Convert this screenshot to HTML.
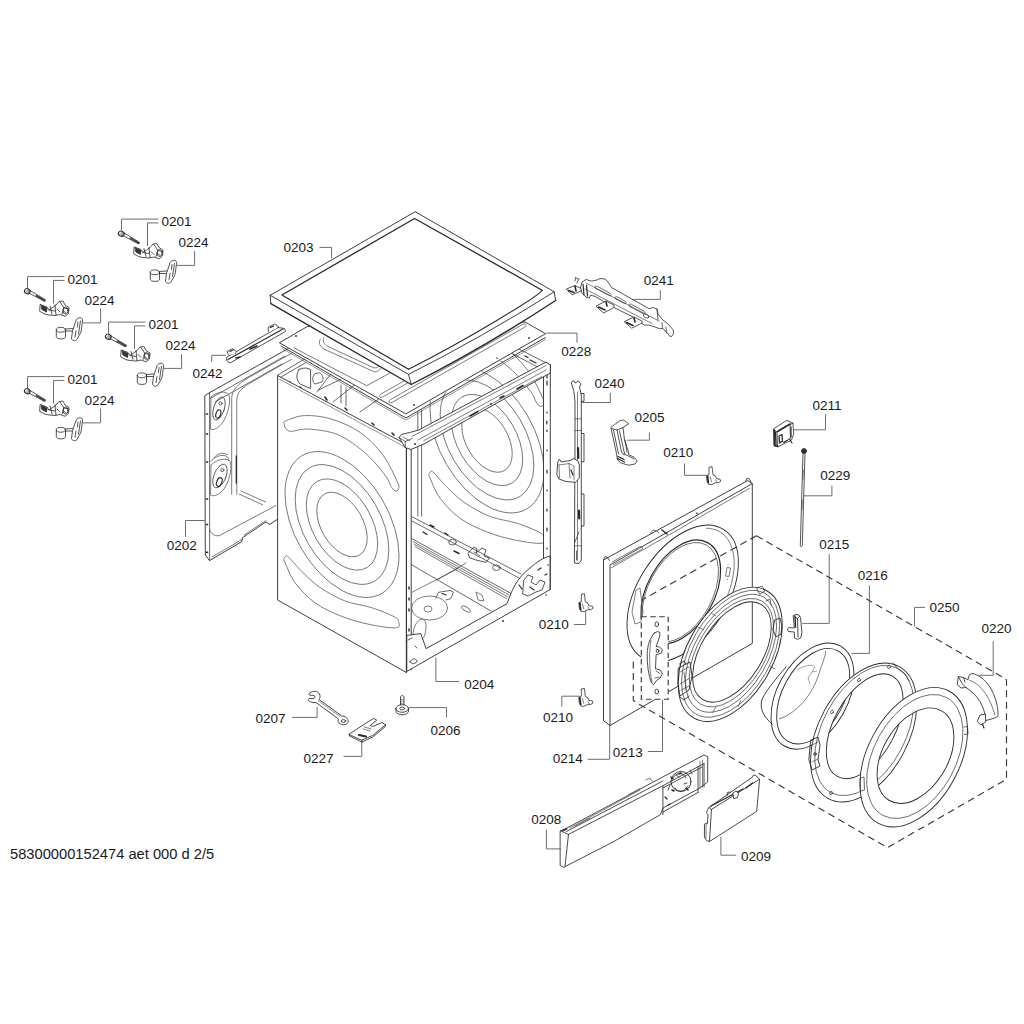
<!DOCTYPE html>
<html><head><meta charset="utf-8">
<style>
html,body{margin:0;padding:0;background:#fff;width:1024px;height:1024px;overflow:hidden}
svg{display:block}
text{font-family:"Liberation Sans",sans-serif;font-size:13.5px;fill:#1a1a1a}
.l{fill:none;stroke:#6e6e6e;stroke-width:1}
.d{fill:none;stroke:#2a2a2a;stroke-width:0.9;stroke-linejoin:round;stroke-linecap:round}
.t{fill:none;stroke:#666;stroke-width:0.85}
.w{fill:#fff;stroke:#2a2a2a;stroke-width:0.9;stroke-linejoin:round}
.ds{fill:none;stroke:#3a3a3a;stroke-width:1.15;stroke-dasharray:7 4.5}
</style></head><body>
<svg width="1024" height="1024" viewBox="0 0 1024 1024">
<defs>
<g id="grp">
<path class="l" d="M27.5,288V276.6H64.4M53.5,303.5V280.4H64.4M83,322.9H100.6V308.5"/>
<g class="d" style="stroke-width:0.8">
<path d="M29.5,290.2L45.5,299.8L44.5,301.4L28.5,292.8" fill="#fff"/>
<path d="M36.5,295.8L44.8,300.6" style="stroke-width:1.8;stroke:#444"/>
<ellipse cx="27.3" cy="291.2" rx="2.9" ry="2.5" fill="#fff" transform="rotate(30 27.3 291.2)" style="stroke-width:1.1"/>
<ellipse cx="28" cy="291.6" rx="1.2" ry="1.6" fill="none" style="stroke-width:0.6"/>
<path d="M40.5,304.5L47,307L49,310L56,305L59,301.5L63,301L65,305L69,307.5L68.5,313.5L65,316.3L60,314.5L55,315.5L49,315L45,314.2L40,311.5Z" fill="#fff"/>
<path d="M41.5,305.5L47,308L46.5,312L42,309.5Z" fill="#333"/>
<path d="M55,305L56,315M60,302L64,308L62,314M64,308L68.8,309M49,310L55,311M50,306L52,314M57,309L60,312M63,310.5L66,313"/>
<ellipse cx="65.5" cy="310.5" rx="2.5" ry="3.5"/>
<ellipse cx="60.9" cy="329.8" rx="4.6" ry="2.4" fill="#fff"/>
<path d="M56.3,329.8V336.5A4.6,2.4 0 0 0 65.5,336.5V329.8"/>
<path d="M65,329L73,328.5M65.5,331L72.5,331"/>
<path d="M76.5,319.5C78.5,317 82,317 82.7,320L81,332L77,339.5C75.5,341.5 72,341 71.5,338.5L72.5,331Z" fill="#fff"/>
<path d="M78,322L77.5,327M76,331L75,337M80.5,321L78.5,334"/>
</g>
<text x="67.4" y="283.8">0201</text>
<text x="84.4" y="304.5">0224</text>
</g>
</defs>
<!-- GROUPS -->
<use href="#grp"/>
<use href="#grp" transform="translate(94,-57.5)"/>
<use href="#grp" transform="translate(81,45.5)"/>
<use href="#grp" transform="translate(0,100)"/>
<!-- LABELS -->
<g>
<text x="283.5" y="251.9">0203</text>
<text x="192.5" y="378.4">0242</text>
<text x="166.7" y="550.2">0202</text>
<text x="561.3" y="356.1">0228</text>
<text x="643.8" y="285">0241</text>
<text x="594.4" y="388.4">0240</text>
<text x="634.4" y="421.9">0205</text>
<text x="663.3" y="457">0210</text>
<text x="812.5" y="409.8">0211</text>
<text x="820.2" y="480.3">0229</text>
<text x="819.2" y="548.7">0215</text>
<text x="857.8" y="580.3">0216</text>
<text x="929.6" y="612.1">0250</text>
<text x="981.4" y="632.7">0220</text>
<text x="538.8" y="629.4">0210</text>
<text x="543.1" y="722.2">0210</text>
<text x="552.8" y="763">0214</text>
<text x="612.7" y="756.8">0213</text>
<text x="464.2" y="688.8">0204</text>
<text x="255.5" y="723">0207</text>
<text x="303.6" y="762.5">0227</text>
<text x="430.6" y="735.2">0206</text>
<text x="531.3" y="824.4">0208</text>
<text x="740.9" y="860.5">0209</text>
<text x="10" y="859" style="font-size:14.7px">58300000152474 aet 000 d 2/5</text>
</g>
<!-- LEADERS -->
<path class="l" d="M319.5,247.4H331.6V258.5
M211.7,362V355.3H226
M185.5,537V520.5H204.6
M546.3,333.1H577V342.8
M660.3,290V299.4H629.8
M610.3,392.8V402.5H581.9
M649.4,432.3V440.2H627.2
M684.5,463.6V475.3H706.9
M825.5,414.2V429.8H793.9
M831.9,485.6V495.8H803.3
M829.2,554.2V623.4H802.2
M869.4,585.5V653.4H851.4
M925,607.4H914.5V626.4
M993.2,641.2V675.3H979.1
M574,624.5H585.7V611.3
M561.8,706.6V696.2H579.8
M587.6,759.3H609.7V725.5
M647.9,751.5H662.5V700
M459,681.5H435.9V657.6
M292,717.4H317.1V706.9
M343.5,756.4H361.8V741.8
M446.5,717.4V707.6H408.7
M546.4,829.6V848.9H560.9
M736.2,855.2H720.9V837"/>

<!-- SIDE PANEL 0202 -->
<g id="p0202">
<path fill="#fff" d="M204.8,395.7L210.3,392.2L288,348.7L292,346L292,520L276.2,520L269.8,524.4L266,521.9L242.5,537.7L241.9,541.5L209.5,560.6L205.3,554.9Z"/>
<path class="d" d="M288,348.7L210.3,392.2L204.8,395.7L205.3,554.9L209.5,560.6L241.9,541.5L242.5,537.7L266,521.9L269.8,524.4L276.2,520L278,519"/>
<path class="d" d="M209.6,393V560M210.3,398.4L285,356M215,402L282,364" style="stroke-width:0.7"/>
<path class="d" d="M212,557L242,539.5M244,535L266,520.5" style="stroke-width:0.6"/>
<path class="t" d="M209.5,528.9C211,534 214,536 219,535.8L276.2,505.4"/>
<path class="t" d="M231.7,494.6V398C232,390 238,384 248,378L292,353M236.8,494.6V400C237,392 242,388 250,383L292,359"/>
<path class="t" d="M240.6,490.8L266,502.2M239,494L263,505"/>
<path class="t" d="M211,397C216,392 226,390 229,395C231,402 228,414 223,422C219,428 213,431 210.5,429Z"/>
<ellipse class="d" cx="219" cy="408.5" rx="5.3" ry="12" transform="rotate(18 219 408.5)" style="stroke-width:0.7"/>
<circle class="d" cx="220.5" cy="403.4" r="1.6" style="stroke-width:0.7"/>
<ellipse class="d" cx="218.3" cy="414" rx="2.3" ry="4.3" transform="rotate(18 218.3 414)" style="stroke-width:1.1"/>
<path class="t" d="M210.5,462C214,457 221,454 226,456C228,457 229,459 229,461M214,458C217,453 224,452 228,455"/>
<path class="t" d="M211,465C217,459 228,457 230.5,462C232,470 229,482 224,489C219,495 213,497 210.5,495Z"/>
<ellipse class="d" cx="220" cy="476" rx="6" ry="12.5" transform="rotate(22 220 476)" style="stroke-width:0.7"/>
<circle class="d" cx="222.3" cy="470" r="1.6" style="stroke-width:0.7"/>
<ellipse class="d" cx="219.3" cy="482" rx="2.5" ry="4.5" transform="rotate(22 219.3 482)" style="stroke-width:1.1"/>
<path class="d" d="M236.3,456V483" style="stroke-width:1.3"/>
<path class="d" d="M206.3,414h1.3M206.3,434h1.3M206.3,462h1.3M206.3,499h1.3M206.3,524.4h1.3M206.3,552.3h1.3" style="stroke-width:1.5"/>
</g>
<!-- CABINET 0204 -->
<defs><clipPath id="cop"><path d="M421.5,406L543,336L543,580L421.5,520Z"/></clipPath></defs>
<g id="cab">
<path class="d" d="M277.4,375.2L304.4,359.2M281,377L306,362.5" style="stroke-width:0.7"/>
<path class="d" d="M299,369.5C296,374 296,380 300,384L310.6,388.5V369.4L306,368C303,368 300,369 299,369.5Z" style="stroke-width:0.8"/>
<path class="d" d="M314.5,374C312,377 312,382 315,384L322,382C324,379 323,375 320,373Z" style="stroke-width:0.7"/>
<path class="d" d="M316.9,392L330.9,374M318.5,390L340.3,379.5M333,402L357,383M341,403V385M346,406V388M360,412L380,398" style="stroke-width:0.7"/>
<path class="d" d="M290,382L291,386M300,387L302,390M325,397L327,400M345,408L347,410M372,423L374,425M392,433L394,435" style="stroke-width:1.6"/>
<path class="w" d="M277.6,375.5L406.4,444.5L406.4,672.5L277.6,600Z"/>
<path class="d" d="M279,379L405,447" style="stroke-width:0.5"/>
<g class="t" transform="matrix(0.864,0.471,0,1,342,524.5)">
<circle r="29.2"/><circle r="41.3"/><circle r="54.2"/><circle r="66"/>
</g>
<path id="slotT" class="t" d="M285.1,421.2C288.4,419.8 296.5,416.0 304.2,415.6C311.9,415.2 321.8,416.2 331.1,419.0C340.5,421.8 351.7,426.5 360.3,432.5C368.9,438.5 376.6,446.7 382.8,454.9C389.0,463.1 394.8,476.2 397.4,481.8C400.0,487.4 398.7,487.1 398.5,488.6C398.3,490.1 397.1,491.2 396.0,491.0C394.9,490.8 393.5,490.1 391.7,487.5C389.9,484.9 389.5,480.9 385.0,475.1C380.5,469.3 372.7,459.4 364.8,452.7C356.9,446.0 347.2,438.6 337.9,434.7C328.5,430.8 316.6,429.7 308.7,429.1C300.8,428.5 294.6,431.5 290.7,431.3C286.8,431.1 286.6,429.2 285.5,428.0C284.4,426.8 284.4,425.1 284.3,424.0C284.2,422.9 281.8,422.6 285.1,421.2Z"/>
<path id="slotB" class="t" d="M288.5,557.0C291.2,559.5 296.8,566.6 302.0,571.7C307.2,576.8 312.8,582.5 319.9,587.4C327.0,592.2 336.0,597.4 344.6,600.8C353.2,604.2 363.3,605.0 371.5,607.6C379.7,610.2 389.5,614.3 394.0,616.6C398.5,618.9 398.1,619.6 398.5,621.5C398.9,623.4 401.1,627.3 396.2,627.8C391.3,628.3 378.3,626.3 369.3,624.4C360.3,622.5 351.4,620.1 342.4,616.6C333.4,613.1 323.3,608.7 315.4,603.1C307.5,597.5 300.2,589.6 295.2,582.9C290.1,576.2 287.0,566.7 285.1,562.7C283.2,558.7 283.9,560.0 284.0,559.0C284.1,558.0 284.8,556.8 285.5,556.5C286.2,556.2 285.8,554.5 288.5,557.0Z"/>
<g clip-path="url(#cop)">
<g class="t" transform="matrix(0.864,0.471,0,1,487,440)">
<circle r="29.2"/><circle r="41.3"/><circle r="54.2"/><circle r="66"/>
</g>
<use href="#slotB" transform="translate(145,-84.5)"/>
<use href="#slotT" transform="translate(145,-84.5)"/>
</g>
<path class="d" d="M550.3,365L515,347M543.5,370L512,353.5" style="stroke-width:0.7"/>
<path class="d" d="M530,360L536,363M525,356L528,357.5" style="stroke-width:1.3"/>
<!-- back-left post -->
<path class="d" d="M417.8,412V516M421.6,410V516" style="stroke-width:0.7"/>
<!-- front posts -->
<path class="d" d="M406.4,444.5V672.5M411.2,442V670"/>
<path class="d" d="M543.5,370V590M550.3,365V589.7M543.5,370L550.3,365"/>
<path class="d" d="M547,375V378M547,381V385M547,412V413M546.8,421V424M547,430V431.5M547,450V451M547,470V473M547,490V491M547,509V511M547,528V531M547,548V549" style="stroke-width:1.2"/>
<!-- top rail -->
<path class="w" d="M399,437.4L401.8,434.3C406,433.5 412,432 418.9,429.9L546,362L550.3,365L550.3,373L424,444L418,446.5L411,449.5L405.3,447.6Z"/>
<path class="d" d="M403,437L410,441M412,436.5L546,365.5M418,440L546,370M424,440.5L542,376.5" style="stroke-width:0.6"/>
<path class="d" d="M399,437.4L405.3,441.5L405.3,447.6M405.3,441.5L412,438.5" style="stroke-width:0.7"/>
<path class="d" d="M470,416L478,411.5M500,398L504,396M517,389L523,385.5" style="stroke-width:1.5"/>
<circle cx="491" cy="404" r="0.9" fill="#333"/><circle cx="415" cy="444" r="1" fill="#333"/>
<!-- base -->
<path class="d" d="M412,516.7L521,574M412,521L519,578M412,538.7L510.5,593.2M412,565L491,611" style="stroke-width:0.7"/>
<path class="t" d="M413,541.5L509,595M414,544L508,597M415,546.5L507,599"/>
<path class="d" d="M412,592.3L457.8,568.6M437,580L466,563" style="stroke-width:0.6"/>
<ellipse class="d" cx="452.5" cy="542.2" rx="3.8" ry="2.8" style="stroke-width:0.7"/>
<ellipse class="d" cx="496.4" cy="567.7" rx="3.8" ry="2.8" style="stroke-width:0.7"/>
<path class="d" d="M423,532L427,534.5M454,551L459,553.5M430,525L434,527M445,533L448,535" style="stroke-width:1.4"/>
<path class="d" d="M468.3,553L474,547L477,549L476,553L482,548L486,550L484,556L489.4,558L486,562.4L476,560L470,558Z" fill="#fff" style="stroke-width:0.8"/>
<path class="d" d="M474,552L480,556" style="stroke-width:0.6"/>
<ellipse class="t" cx="466" cy="609" rx="5" ry="2" transform="rotate(30 466 609)"/>
<path class="t" d="M476,592L482,595L484,601L478,600Z"/>
<path class="d" d="M436,598L438.4,592.3L450,590.5L453.4,592L451,598.5L446,600" style="stroke-width:0.7"/>
<path class="d" d="M442,593.5L446,595" style="stroke-width:1.2"/>
<path class="t" d="M413,640C412,630 416,620 422,619C426,619 427,626 425,634C424,639 420,642 416,641"/>
<path class="d" d="M409,587V589M409,598V600M409,609V611M409,629V631" style="stroke-width:1.4"/>
<circle cx="503" cy="621" r="1" fill="#333"/>
<ellipse class="t" cx="429.6" cy="608" rx="18" ry="12"/>
<ellipse class="t" cx="428" cy="609" rx="4" ry="3"/>
<!-- front bottom panel -->
<path class="w" d="M406.8,671.4L406.8,635.4L420.8,633.6L426.1,648.6L507,603.7C512,590 516,579 530,568C538,561 543,558 550,556L550,589.7Z"/>
<path class="d" d="M408,640L412,638M415,646L417,648M410,662C412,658 416,658 417,661C416,664 412,665 410,662Z" style="stroke-width:0.8"/>
<path class="d" d="M524,580L528,575L533,577L531,582L536,585L540,580L545,582L542,590L536,592L528,596L523,594Z" fill="#fff" style="stroke-width:0.8"/>
<path class="d" d="M530,587L534,590M519,585L522,589M538,570L541,568M545,575L547,574" style="stroke-width:1.2"/>
<circle cx="548" cy="565" r="0.8" fill="#333"/><circle cx="546" cy="595" r="0.8" fill="#333"/>
</g>
<!-- PLATE 0228 -->
<path class="w" d="M279.4,342.8L307.5,326.4L525,322L545.5,333.7L405.9,413.9Z"/>
<path class="d" d="M281,346L405.9,418L545.5,337.5"/>
<path class="d" d="M282,348.5L405.9,420L545.5,339.5" style="stroke-width:0.5"/>
<path class="t" d="M293.4,347.6L366.7,385.7L390,373M320.5,338.8C318,343 320,347 325,349.5L372.5,371C376,373 379,371 381.3,368M324,337C322,341 324,344 328,346.5L373,367.5C375.5,368.5 377.5,367.5 379,366"/>
<path class="t" d="M412,376.5L381,394C378.5,395.5 379.5,398.5 382.5,397L413,380M523,324.2L390.5,399.5C388,401 389,404 392,402.5L525,327C527,325.5 525.5,322.8 523,324.2Z"/>
<circle cx="296" cy="336" r="1" fill="#333"/><circle cx="497" cy="358" r="0.8" fill="#333"/><circle cx="414" cy="405" r="0.9" fill="#333"/><circle cx="529" cy="338" r="0.9" fill="#333"/>
<!-- TOP PANEL 0203 -->
<path fill="#fff" d="M270.2,295.3L415.2,211.7L554.2,291.8L555.6,300.5Q483.4,348 411.25,384.5L270.9,303.6Z"/>
<path class="d" d="M270.2,295.3L415.2,211.7L554.2,291.8L555.6,300.5M270.2,295.3L270.9,303.6"/>
<path class="d" d="M270.9,303.6L411.25,384.5Q483.4,348 555.6,300.5" style="stroke-width:1.4"/>
<path class="d" d="M270.2,295.3L408.5,374.4Q481.4,337.6 554.2,291.8M408.5,374.4L411.25,384.5"/>
<path class="d" d="M408.5,369.3L281.9,295L414.6,218.5L542.1,290.2" style="stroke-width:1.3"/>
<path class="d" d="M542.1,290.2C539,296 470,338 408.5,369.3" style="stroke-width:1.1"/>
<!-- RAIL 0242 -->
<g class="d" style="stroke-width:0.8">
<path d="M227,357L278,327.5L284.5,328.5L285.5,331.5L230,363L227,361Z" fill="#fff"/>
<path d="M228,359.5L283,329" style="stroke-width:1.2"/>
<path d="M228.5,355L227,351.5L232.5,348.7L236.5,351.5L235.5,353.5M268.5,331.5L268,327.5L274.5,324L278.5,326.5L277.5,328" fill="#fff"/>
<path d="M230,351.5L233,350M270.5,327.5L273.5,326" style="stroke-width:1.3"/>
<path d="M236,358L240,357M250,349L257,346" style="stroke-width:1.6"/>
</g>
<!-- RAIL 0241 -->
<g class="d" style="stroke-width:0.8">
<path d="M580.5,287.6L582,282L586,279.5L591.6,281.1L597,280L600,278.5L605,279L608,282L611.6,287.6L649.1,308.7L653,307.5L657,309L658,314L662,319.2L668,324L673.1,329.8L673.7,333.3L671.5,336.5L669.6,336.2L667.8,333.3L665,331L663.1,328.6L659.6,328.6L649.1,325.1L644.4,325.1L635,318L613.9,307.5L595.2,296.4L590.5,295.2L589.3,298.1L586,297L582.3,293.4Z" fill="#fff"/>
<path d="M586,283L659,321M585,289L652,323.5" style="stroke-width:0.6"/>
<path d="M596,288.5L609,295.5C611,296.5 612,294.5 610,293.3L597.5,286.5C595,285.3 594,287.3 596,288.5ZM616,299L624,303.3C626,304.3 627,302.3 625,301.2L617.5,297C615,296 614,298 616,299ZM630,306.5L643,313.5C645,314.5 646,312.5 644,311.3L631.5,304.3C629,303.3 628,305.3 630,306.5Z" style="stroke-width:0.7"/>
<ellipse cx="646" cy="316" rx="3" ry="1.6" transform="rotate(28 646 316)" style="stroke-width:0.7"/>
<path d="M583,284L584,295M586.5,285L587.5,296" style="stroke-width:1.2"/>
<path d="M566.5,289L575,285.5L581,288.5L581,291L572.5,294.6Z" fill="#fff"/>
<path d="M568.5,290.5L574,292.5M575,286L576,291" style="stroke-width:1.6"/>
<path d="M596.3,306L606,301L614,305L613.9,307.5L604,312.8Z" fill="#fff"/>
<path d="M598.5,307L605,310M606,302L607,306" style="stroke-width:1.6"/>
<path d="M624.5,321.5L634,317L642,321L642,323L632,328Z" fill="#fff"/>
<path d="M626.5,322.5L633,325.5M634,318L635,322" style="stroke-width:1.6"/>
<path d="M575,281L575.5,277.5L578,279M577,283L579,278.5" />
<path d="M662,322.5L662.5,328.5M666,327L666.5,333M657,309L658,320" style="stroke-width:0.7"/>
</g>
<!-- RAIL 0240 -->
<g class="d" style="stroke-width:0.85">
<path d="M571.5,382L573.5,380.5L575,383L578.5,381L581,384L579.5,387L581.3,395L581.3,560L579,563.5L574.4,563L574.5,545L575,440L575,402L574,392Z" fill="#fff"/>
<path d="M577.5,392V560M575,418.8H581.3M575,430.5H581.3M575,545.8H581.3" style="stroke-width:0.6"/>
<path d="M581.3,393.5H584V401.3H581.3M581.3,433.5H584V461.8H581.3M581.3,494H584V526H581.3"/>
<path d="M578,448L578.3,458M579,510.6L579.2,518.4" style="stroke-width:2.2"/>
<path d="M575,542L579,532M576.5,551V560" style="stroke-width:0.7"/>
<path d="M558,461.5L559.5,459L561,462L570,460.5L574,458.5L578,461L579.3,465L579.3,478L575.5,482.3L566,481.5L559,479L557,475Z" fill="#fff"/>
<path d="M559,465L569,463.5L574,466L574,480M569,463.5L570,478M559,465L559.5,478" style="stroke-width:0.6"/>
<path d="M571,470L573,475" style="stroke-width:1.2"/>
</g>
<!-- 0205 -->
<g class="d" style="stroke-width:0.8">
<path d="M611.2,427.3L614.4,424.7L620,420.6L623.5,420.1L628.9,423.6L623,427.5L624.5,440L628.6,452L628.6,454.5L634.5,457.5L637.2,461L635,464L628.6,465.2L621,463L617.5,460L616.5,453.7Z" fill="#fff"/>
<path d="M611.5,428.5L617,430L623,427.5M617,430L621.5,452L624,455M613.5,430L618.5,454M619.5,431L624.5,453.5M625,440L627,452"/>
<path d="M618,456.5L624,459.5M617.5,458.5L624.5,462" style="stroke-width:1.3"/>
<path d="M624,454L628.6,456L634,459"/>
</g>
<!-- 0210 clips -->
<defs><g id="clip10" class="d" style="stroke-width:0.8">
<path d="M3,0.5L5.5,0L6,3L6.5,8L9,9.5L10,12L13.5,12.5L14.3,14.5L12,16L9,16L5,18L2,17.5L0.5,14L0,9L2.5,8L2.5,4Z" fill="#fff"/>
<path d="M1,9.5L1.8,16" style="stroke-width:1.8"/>
<path d="M3.5,10L5,15M9,13L10.5,15.5" style="stroke-width:0.6"/>
</g></defs>
<use href="#clip10" transform="translate(706.5,466.7)"/>
<use href="#clip10" transform="translate(578.8,593.7)"/>
<use href="#clip10" transform="translate(578.8,688.4)"/>
<!-- 0211 -->
<g class="d" style="stroke-width:0.8">
<path d="M773.9,428.7L786.8,420.3L793,423.2L793.6,434L791.5,440L783.6,444L778.2,446.6L774.4,445.9Z" fill="#fff"/>
<path d="M774,429.5L777,432L790,424.5L793,423.2M777,432L777.5,446M790,424.5L790.5,438L783.5,443"/>
<path d="M775.5,432L776,445M779,436L782,434.5L782.5,441L779.5,443Z" style="stroke-width:1.3"/>
<path d="M774.2,430L774.6,445.5L778,446.4" style="stroke-width:1.6"/>
<path d="M791,427V437M784,442L787,440.5M789.5,439L792,443" style="stroke-width:1.2"/>
<path d="M777.5,431.5L790,424" style="stroke-width:1.5"/>
</g>
<!-- 0229 rod -->
<g class="d" style="stroke-width:0.8">
<path d="M803,453L800.3,545.5C800.5,547 802,547 802.3,545.5L805,453" fill="#fff"/>
<circle cx="804" cy="451" r="2.5" fill="#333"/>
<path d="M803.5,470L803,480M802.5,500L802,510" style="stroke-width:0.5"/>
</g>
<!-- DASHED BOX -->
<path class="ds" d="M756.5,535.7L1002.3,677L1006.5,680V779.3L887.6,847.6L637,703L633.3,700.5V658M756.5,535.7L641,600.5"/>
<!-- FRONT PANEL 0214 -->
<g id="fp">
<path class="d" d="M603.5,720.6V560L747.7,480.5L752.3,483.6V643.4L610,725.5L603.5,720.6M610,725.5V565L752.3,483.6"/>
<path class="t" d="M611,568Q680,529 750,488"/>
<circle cx="697" cy="513.3" r="0.9" fill="#333"/>
<path class="d" d="M603.5,560L605,556.5L607.5,557.5L609.4,560.5M745.5,481.5L747,478L749.5,479L751,482.5" style="stroke-width:0.8"/>
<path class="t" d="M612,562L640,546.5Q643,546 642.5,549L613,565M650,534L653,530L657,531L659,533"/>
<path class="d" d="M662,530L667,534" style="stroke-width:1.6"/>
<ellipse class="d" cx="682.7" cy="593.5" rx="76" ry="44.6" transform="rotate(-57.2 682.7 593.5)" style="fill:none"/>

<path class="t" d="M706.0,528.2L709.2,528.4L712.3,528.9L715.2,529.7L718.0,530.8L720.6,532.3L723.0,534.1L725.2,536.1L727.1,538.4L728.9,541.1L730.4,543.9L731.7,547.0L732.7,550.4L733.4,553.9L733.9,557.7L734.2,561.6L734.2,565.7L733.9,570.0L733.3,574.3L732.5,578.8L731.5,583.3L730.2,587.9L728.6,592.5L726.9,597.2L724.9,601.8L722.6,606.4L720.2,610.9L717.6,615.3L714.8,619.7L711.8,623.9L708.7,628.0"/>
<ellipse class="d" cx="680.8" cy="591.8" rx="56" ry="33.5" transform="rotate(-61.4 680.8 591.8)" style="stroke-width:1.2"/>
<ellipse class="t" cx="680.3" cy="592.3" rx="54" ry="32" transform="rotate(-61.4 680.3 592.3)"/>
<path class="t" d="M727,567.5L725.5,576L729,576.5L730.5,568ZM728,564.5V565.5M727.5,579V580"/>
<path class="t" d="M636,590L632,612L635,624L641,622L643,612L640,588Z"/>
</g>
<!-- DOOR RING -->
<path d="M766.7,590.7L768.6,591.9L770.4,593.3L772.0,594.8L773.6,596.5L775.0,598.4L776.3,600.4L777.5,602.6L778.6,604.9L779.5,607.3L780.3,609.9L781.0,612.6L781.5,615.4L781.9,618.3L782.1,621.3L782.2,624.4L782.1,627.6L781.9,630.8L781.6,634.1L781.1,637.5L780.5,640.9L779.8,644.4L778.9,647.9L777.8,651.4L776.7,654.9L775.4,658.4L774.0,661.9L772.5,665.3L770.8,668.8L769.1,672.2L767.2,675.6L765.3,678.9L763.2,682.1L761.1,685.2L758.8,688.3L756.5,691.3L754.1,694.2L751.7,696.9L749.2,699.6L746.6,702.1L744.0,704.5L741.4,706.8L738.7,708.9L736.0,710.8L733.3,712.6L730.6,714.3L727.9,715.8L725.2,717.1L722.5,718.2L719.8,719.2L717.1,720.0L714.5,720.6L711.9,721.0L709.4,721.3L706.9,721.3L704.5,721.2L702.2,720.9L700.0,720.4L697.8,719.7L695.7,718.9L693.7,717.9L691.8,716.7L690.0,715.3L688.4,713.8L686.8,712.1L685.4,710.2L684.1,708.2L682.9,706.0L681.8,703.7L680.9,701.3L680.1,698.7L679.4,696.0L678.9,693.2L678.5,690.3L678.3,687.3L678.2,684.2L678.3,681.0L678.5,677.8L678.8,674.5L679.3,671.1L679.9,667.7L680.6,664.2L681.5,660.7L682.6,657.2L683.7,653.7L685.0,650.2L686.4,646.7L687.9,643.3L689.6,639.8L691.3,636.4L693.2,633.0L695.1,629.7L697.2,626.5L699.3,623.4L701.6,620.3L703.9,617.3L706.3,614.4L708.7,611.7L711.2,609.0L713.8,606.5L716.4,604.1L719.0,601.8L721.7,599.7L724.4,597.8L727.1,596.0L729.8,594.3L732.5,592.8L735.2,591.5L737.9,590.4L740.6,589.4L743.3,588.6L745.9,588.0L748.5,587.6L751.0,587.3L753.5,587.3L755.9,587.4L758.2,587.7L760.4,588.2L762.6,588.9L764.7,589.7Z M761.4,604.6L762.7,605.5L763.9,606.6L765.1,607.7L766.1,609.0L767.1,610.4L768.0,611.9L768.7,613.6L769.4,615.3L770.0,617.1L770.4,619.1L770.8,621.1L771.0,623.2L771.2,625.4L771.2,627.6L771.1,629.9L770.9,632.3L770.6,634.8L770.2,637.2L769.7,639.8L769.1,642.3L768.4,644.9L767.6,647.5L766.7,650.1L765.7,652.7L764.6,655.4L763.4,658.0L762.2,660.6L760.8,663.1L759.4,665.7L757.9,668.2L756.3,670.6L754.7,673.0L752.9,675.4L751.2,677.7L749.4,679.9L747.5,682.0L745.6,684.1L743.6,686.0L741.7,687.9L739.7,689.7L737.6,691.4L735.6,692.9L733.5,694.4L731.5,695.7L729.4,696.9L727.4,698.0L725.3,699.0L723.3,699.8L721.3,700.5L719.4,701.1L717.4,701.6L715.5,701.9L713.7,702.0L711.9,702.1L710.1,701.9L708.5,701.7L706.8,701.3L705.3,700.8L703.8,700.2L702.4,699.4L701.1,698.5L699.9,697.4L698.7,696.3L697.7,695.0L696.7,693.6L695.8,692.1L695.1,690.4L694.4,688.7L693.8,686.9L693.4,684.9L693.0,682.9L692.8,680.8L692.6,678.6L692.6,676.4L692.7,674.1L692.9,671.7L693.2,669.2L693.6,666.8L694.1,664.2L694.7,661.7L695.4,659.1L696.2,656.5L697.1,653.9L698.1,651.3L699.2,648.6L700.4,646.0L701.6,643.4L703.0,640.9L704.4,638.3L705.9,635.8L707.5,633.4L709.1,631.0L710.9,628.6L712.6,626.3L714.4,624.1L716.3,622.0L718.2,619.9L720.2,618.0L722.1,616.1L724.1,614.3L726.2,612.6L728.2,611.1L730.3,609.6L732.3,608.3L734.4,607.1L736.4,606.0L738.5,605.0L740.5,604.2L742.5,603.5L744.4,602.9L746.4,602.4L748.3,602.1L750.1,602.0L751.9,601.9L753.7,602.1L755.3,602.3L757.0,602.7L758.5,603.2L760.0,603.8Z" fill="#fff" fill-rule="evenodd" stroke="none"/>
<ellipse class="d" cx="730.2" cy="654.3" rx="73.3" ry="42.7" transform="rotate(-60.1 730.2 654.3)" />
<ellipse class="t" cx="730.6" cy="653.8" rx="69.5" ry="40.0" transform="rotate(-60.0 730.6 653.8)" />
<ellipse class="t" cx="731.0" cy="653.3" rx="65.0" ry="36.5" transform="rotate(-59.5 731.0 653.3)" />
<ellipse class="t" cx="731.4" cy="652.7" rx="60.0" ry="33.5" transform="rotate(-59.0 731.4 652.7)" />
<ellipse class="d" cx="731.9" cy="652.0" rx="55.8" ry="30.6" transform="rotate(-58.1 731.9 652.0)" />
<path class="d" d="M678.5,668L690,662L692,676L689,690L680,696L678,684Z" fill="#fff"/>
<path class="d" d="M680,672L689,667M680,684L690,678M681,690L689,686M684,672L686,690" style="stroke-width:0.6"/>
<path class="d" d="M679.5,664L684,661L686,664M680,697L684,700L689,696" />
<path class="d" d="M775,620L780,618L782,626L781,634L776,637L773,630Z" fill="#fff"/>
<path class="d" d="M757,588L762,586L765,591L760,594Z M766,601L770,599L771,605" style="stroke-width:0.7"/>
<path class="t" d="M698,627L704,630M711,613L716,616M770,666L775,669M738,707L741,700M712,713L716,707"/>
<!-- 0216 -->
<path fill="#fff" d="M786,667C775,680 764,695 761.5,703C760,712 764,718 772,725L790,700Z"/>
<path d="M840.2,645.9L841.8,646.9L843.3,648.0L844.7,649.2L846.0,650.6L847.2,652.1L848.4,653.7L849.4,655.4L850.4,657.2L851.2,659.1L851.9,661.2L852.6,663.3L853.1,665.5L853.5,667.9L853.8,670.2L853.9,672.7L854.0,675.2L853.9,677.8L853.8,680.4L853.5,683.1L853.1,685.8L852.6,688.5L852.0,691.3L851.3,694.0L850.4,696.8L849.5,699.6L848.5,702.4L847.4,705.1L846.1,707.8L844.8,710.5L843.4,713.2L841.9,715.8L840.3,718.3L838.7,720.8L837.0,723.2L835.2,725.6L833.3,727.8L831.4,730.0L829.5,732.1L827.5,734.1L825.4,736.0L823.3,737.7L821.2,739.4L819.1,740.9L816.9,742.3L814.8,743.6L812.6,744.8L810.4,745.8L808.3,746.7L806.1,747.5L804.0,748.1L801.9,748.5L799.8,748.9L797.7,749.0L795.7,749.1L793.8,749.0L791.8,748.7L790.0,748.3L788.2,747.8L786.5,747.1L784.8,746.3L783.2,745.3L781.7,744.2L780.3,743.0L779.0,741.6L777.8,740.1L776.6,738.5L775.6,736.8L774.6,735.0L773.8,733.1L773.1,731.0L772.4,728.9L771.9,726.7L771.5,724.3L771.2,722.0L771.1,719.5L771.0,717.0L771.1,714.4L771.2,711.8L771.5,709.1L771.9,706.4L772.4,703.7L773.0,700.9L773.7,698.2L774.6,695.4L775.5,692.6L776.5,689.8L777.6,687.1L778.9,684.4L780.2,681.7L781.6,679.0L783.1,676.4L784.7,673.9L786.3,671.4L788.0,669.0L789.8,666.6L791.7,664.4L793.6,662.2L795.5,660.1L797.5,658.1L799.6,656.2L801.7,654.5L803.8,652.8L805.9,651.3L808.1,649.9L810.2,648.6L812.4,647.4L814.6,646.4L816.7,645.5L818.9,644.7L821.0,644.1L823.1,643.7L825.2,643.3L827.3,643.2L829.3,643.1L831.2,643.2L833.2,643.5L835.0,643.9L836.8,644.4L838.5,645.1Z M837.9,650.8L839.3,651.6L840.6,652.6L841.8,653.7L843.0,654.8L844.1,656.1L845.0,657.6L845.9,659.1L846.7,660.7L847.4,662.4L848.1,664.2L848.6,666.1L849.0,668.1L849.3,670.1L849.6,672.3L849.7,674.5L849.7,676.7L849.7,679.0L849.5,681.4L849.2,683.8L848.8,686.2L848.4,688.6L847.8,691.1L847.2,693.6L846.4,696.1L845.6,698.6L844.6,701.1L843.6,703.6L842.5,706.0L841.3,708.5L840.1,710.8L838.7,713.2L837.3,715.5L835.9,717.8L834.3,720.0L832.7,722.1L831.1,724.2L829.4,726.1L827.7,728.0L825.9,729.9L824.1,731.6L822.3,733.2L820.4,734.7L818.5,736.1L816.6,737.5L814.7,738.7L812.8,739.7L810.9,740.7L809.0,741.5L807.1,742.2L805.2,742.8L803.3,743.3L801.5,743.6L799.7,743.8L798.0,743.9L796.2,743.8L794.6,743.6L793.0,743.3L791.4,742.9L789.9,742.3L788.5,741.6L787.1,740.8L785.8,739.8L784.6,738.7L783.4,737.6L782.3,736.3L781.4,734.8L780.5,733.3L779.7,731.7L779.0,730.0L778.3,728.2L777.8,726.3L777.4,724.3L777.1,722.3L776.8,720.1L776.7,717.9L776.7,715.7L776.7,713.4L776.9,711.0L777.2,708.6L777.6,706.2L778.0,703.8L778.6,701.3L779.2,698.8L780.0,696.3L780.8,693.8L781.8,691.3L782.8,688.8L783.9,686.4L785.1,683.9L786.3,681.6L787.7,679.2L789.1,676.9L790.5,674.6L792.1,672.4L793.7,670.3L795.3,668.2L797.0,666.3L798.7,664.4L800.5,662.5L802.3,660.8L804.1,659.2L806.0,657.7L807.9,656.3L809.8,654.9L811.7,653.7L813.6,652.7L815.5,651.7L817.4,650.9L819.3,650.2L821.2,649.6L823.1,649.1L824.9,648.8L826.7,648.6L828.4,648.5L830.2,648.6L831.8,648.8L833.4,649.1L835.0,649.5L836.5,650.1Z" fill="#fff" fill-rule="evenodd" stroke="none"/>
<ellipse class="d" cx="812.5" cy="696.1" rx="57.3" ry="35.3" transform="rotate(-61.1 812.5 696.1)" />
<ellipse class="d" cx="813.2" cy="696.2" rx="51.7" ry="30.6" transform="rotate(-61.4 813.2 696.2)" />
<path class="t" d="M779,719C800,712 815,690 820,670C824,660 826,653 825.5,651"/>
<path class="t" d="M797,670C805,665 812,664 815,667L812,672M812,672L808,678L810,684M812,672L817,671" style="stroke-width:0.6"/>
<path class="d" d="M786,667C775,680 764,693 761.5,701C760,710 764,717 772,724" />
<!-- RING3 -->
<path d="M898.9,666.4L900.9,667.6L902.8,669.0L904.6,670.6L906.3,672.3L907.9,674.2L909.4,676.2L910.7,678.4L911.9,680.7L913.0,683.2L914.0,685.9L914.8,688.6L915.4,691.5L915.9,694.5L916.3,697.6L916.6,700.7L916.6,704.0L916.6,707.4L916.4,710.8L916.0,714.3L915.5,717.8L914.9,721.3L914.1,724.9L913.2,728.6L912.2,732.2L911.0,735.8L909.7,739.4L908.2,743.1L906.7,746.6L905.0,750.2L903.2,753.6L901.3,757.1L899.3,760.4L897.2,763.7L895.0,766.9L892.7,770.0L890.4,773.0L887.9,775.9L885.4,778.7L882.9,781.3L880.3,783.9L877.6,786.2L874.9,788.4L872.2,790.5L869.4,792.4L866.7,794.2L863.9,795.8L861.1,797.2L858.3,798.4L855.6,799.4L852.9,800.3L850.1,801.0L847.5,801.5L844.9,801.8L842.3,801.9L839.8,801.8L837.3,801.5L835.0,801.1L832.7,800.4L830.4,799.6L828.3,798.6L826.3,797.4L824.4,796.0L822.6,794.4L820.9,792.7L819.3,790.8L817.8,788.8L816.5,786.6L815.3,784.3L814.2,781.8L813.2,779.1L812.4,776.4L811.8,773.5L811.3,770.5L810.9,767.4L810.6,764.3L810.6,761.0L810.6,757.6L810.8,754.2L811.2,750.7L811.7,747.2L812.3,743.7L813.1,740.1L814.0,736.4L815.0,732.8L816.2,729.2L817.5,725.6L819.0,721.9L820.5,718.4L822.2,714.8L824.0,711.4L825.9,707.9L827.9,704.6L830.0,701.3L832.2,698.1L834.5,695.0L836.8,692.0L839.3,689.1L841.8,686.3L844.3,683.7L846.9,681.1L849.6,678.8L852.3,676.6L855.0,674.5L857.8,672.6L860.5,670.8L863.3,669.2L866.1,667.8L868.9,666.6L871.6,665.6L874.3,664.7L877.1,664.0L879.7,663.5L882.3,663.2L884.9,663.1L887.4,663.2L889.9,663.5L892.2,663.9L894.5,664.6L896.8,665.4Z M892.0,675.9L893.4,676.8L894.7,677.7L895.9,678.8L897.0,680.1L898.0,681.4L899.0,682.9L899.8,684.5L900.6,686.2L901.3,688.1L901.8,690.0L902.3,692.0L902.6,694.1L902.9,696.4L903.0,698.6L903.1,701.0L903.0,703.5L902.8,705.9L902.6,708.5L902.2,711.1L901.7,713.8L901.1,716.4L900.4,719.1L899.7,721.9L898.8,724.6L897.8,727.3L896.8,730.1L895.6,732.8L894.4,735.5L893.1,738.2L891.7,740.8L890.2,743.5L888.7,746.0L887.1,748.5L885.4,751.0L883.7,753.4L881.9,755.7L880.1,757.9L878.2,760.0L876.3,762.1L874.4,764.0L872.5,765.9L870.5,767.6L868.5,769.2L866.5,770.7L864.5,772.1L862.5,773.4L860.5,774.5L858.5,775.5L856.5,776.3L854.6,777.1L852.6,777.6L850.7,778.1L848.9,778.4L847.1,778.5L845.3,778.5L843.6,778.4L842.0,778.1L840.4,777.7L838.9,777.2L837.4,776.5L836.0,775.6L834.7,774.7L833.5,773.6L832.4,772.3L831.4,771.0L830.4,769.5L829.6,767.9L828.8,766.2L828.1,764.3L827.6,762.4L827.1,760.4L826.8,758.3L826.5,756.0L826.4,753.8L826.3,751.4L826.4,748.9L826.6,746.5L826.8,743.9L827.2,741.3L827.7,738.6L828.3,736.0L829.0,733.3L829.7,730.5L830.6,727.8L831.6,725.1L832.6,722.3L833.8,719.6L835.0,716.9L836.3,714.2L837.7,711.6L839.2,708.9L840.7,706.4L842.3,703.9L844.0,701.4L845.7,699.0L847.5,696.7L849.3,694.5L851.2,692.4L853.1,690.3L855.0,688.4L856.9,686.5L858.9,684.8L860.9,683.2L862.9,681.7L864.9,680.3L866.9,679.0L868.9,677.9L870.9,676.9L872.9,676.1L874.8,675.3L876.8,674.8L878.7,674.3L880.5,674.0L882.3,673.9L884.1,673.9L885.8,674.0L887.4,674.3L889.0,674.7L890.5,675.2Z" fill="#fff" fill-rule="evenodd" stroke="none"/>
<ellipse class="d" cx="863.6" cy="732.5" rx="74.9" ry="44.9" transform="rotate(-61.9 863.6 732.5)" />
<ellipse class="t" cx="864.2" cy="730.5" rx="70.5" ry="41.5" transform="rotate(-61.8 864.2 730.5)" />
<ellipse class="d" cx="864.7" cy="726.2" rx="57.2" ry="30.7" transform="rotate(-61.5 864.7 726.2)" />
<path class="d" d="M811,740L818,737L820,745L818,760L820,766L812,770L809,760Z" fill="#fff"/>
<path class="d" d="M812,745L818,742M812,762L818,759" style="stroke-width:0.6"/>
<circle class="d" cx="815" cy="754" r="1.3"/>
<ellipse class="d" cx="889" cy="667" rx="1.3" ry="1.8" transform="rotate(30 889 667)" style="stroke-width:0.7"/>
<ellipse class="d" cx="859" cy="680" rx="1.3" ry="1.8" transform="rotate(30 859 680)" style="stroke-width:0.7"/>
<ellipse class="d" cx="832" cy="712" rx="1.3" ry="1.8" transform="rotate(30 832 712)" style="stroke-width:0.7"/>
<ellipse class="d" cx="831" cy="793" rx="1.3" ry="1.8" transform="rotate(30 831 793)" style="stroke-width:0.7"/>
<path class="d" d="M893,663L897,668L905,674L909,681" style="stroke-width:0.8"/>
<!-- RING4 -->
<path d="M948.9,691.0L951.0,692.2L953.0,693.6L954.8,695.2L956.6,696.9L958.2,698.8L959.7,700.9L961.1,703.1L962.4,705.5L963.5,708.0L964.5,710.6L965.4,713.4L966.1,716.3L966.6,719.3L967.0,722.4L967.3,725.6L967.4,728.9L967.4,732.3L967.3,735.7L966.9,739.2L966.5,742.8L965.9,746.4L965.1,750.0L964.2,753.6L963.2,757.3L962.0,760.9L960.7,764.6L959.3,768.2L957.8,771.8L956.1,775.3L954.3,778.8L952.4,782.2L950.4,785.6L948.3,788.9L946.1,792.1L943.8,795.2L941.4,798.2L939.0,801.1L936.5,803.9L933.9,806.5L931.3,809.0L928.6,811.4L925.9,813.6L923.1,815.7L920.3,817.6L917.5,819.3L914.7,820.9L911.9,822.3L909.1,823.5L906.3,824.5L903.5,825.3L900.8,826.0L898.1,826.5L895.4,826.8L892.8,826.9L890.2,826.8L887.7,826.5L885.3,826.0L882.9,825.3L880.7,824.5L878.5,823.4L876.4,822.2L874.4,820.8L872.6,819.2L870.8,817.5L869.2,815.6L867.7,813.5L866.3,811.3L865.0,808.9L863.9,806.4L862.9,803.8L862.0,801.0L861.3,798.1L860.8,795.1L860.4,792.0L860.1,788.8L860.0,785.5L860.0,782.1L860.1,778.7L860.5,775.2L860.9,771.6L861.5,768.0L862.3,764.4L863.2,760.8L864.2,757.1L865.4,753.5L866.7,749.8L868.1,746.2L869.6,742.6L871.3,739.1L873.1,735.6L875.0,732.2L877.0,728.8L879.1,725.5L881.3,722.3L883.6,719.2L886.0,716.2L888.4,713.3L890.9,710.5L893.5,707.9L896.1,705.4L898.8,703.0L901.5,700.8L904.3,698.7L907.1,696.8L909.9,695.1L912.7,693.5L915.5,692.1L918.3,690.9L921.1,689.9L923.9,689.1L926.6,688.4L929.3,687.9L932.0,687.6L934.6,687.5L937.2,687.6L939.7,687.9L942.1,688.4L944.5,689.1L946.7,689.9Z M941.7,710.9L943.1,711.8L944.5,712.8L945.8,714.0L946.9,715.3L948.1,716.7L949.1,718.1L950.0,719.7L950.8,721.4L951.6,723.2L952.2,725.1L952.7,727.0L953.2,729.1L953.5,731.2L953.7,733.4L953.9,735.6L953.9,737.9L953.8,740.2L953.6,742.6L953.3,745.0L952.9,747.5L952.4,750.0L951.8,752.5L951.1,754.9L950.3,757.4L949.4,759.9L948.4,762.4L947.3,764.9L946.1,767.3L944.9,769.7L943.6,772.1L942.2,774.4L940.7,776.7L939.1,778.9L937.5,781.1L935.8,783.1L934.1,785.1L932.3,787.1L930.5,788.9L928.6,790.7L926.7,792.3L924.8,793.9L922.8,795.3L920.8,796.6L918.8,797.9L916.8,799.0L914.8,800.0L912.8,800.8L910.8,801.6L908.8,802.2L906.9,802.7L904.9,803.1L903.0,803.3L901.1,803.4L899.3,803.4L897.5,803.2L895.7,802.9L894.0,802.5L892.4,802.0L890.8,801.3L889.3,800.5L887.9,799.6L886.5,798.6L885.2,797.4L884.1,796.1L882.9,794.7L881.9,793.3L881.0,791.7L880.2,790.0L879.4,788.2L878.8,786.3L878.3,784.4L877.8,782.3L877.5,780.2L877.3,778.0L877.1,775.8L877.1,773.5L877.2,771.2L877.4,768.8L877.7,766.4L878.1,763.9L878.6,761.4L879.2,758.9L879.9,756.5L880.7,754.0L881.6,751.5L882.6,749.0L883.7,746.5L884.9,744.1L886.1,741.7L887.4,739.3L888.8,737.0L890.3,734.7L891.9,732.5L893.5,730.3L895.2,728.3L896.9,726.3L898.7,724.3L900.5,722.5L902.4,720.7L904.3,719.1L906.2,717.5L908.2,716.1L910.2,714.8L912.2,713.5L914.2,712.4L916.2,711.4L918.2,710.6L920.2,709.8L922.2,709.2L924.1,708.7L926.1,708.3L928.0,708.1L929.9,708.0L931.7,708.0L933.5,708.2L935.3,708.5L937.0,708.9L938.6,709.4L940.2,710.1Z" fill="#fff" fill-rule="evenodd" stroke="none"/>
<ellipse class="d" cx="913.7" cy="757.2" rx="75.0" ry="46.0" transform="rotate(-62.0 913.7 757.2)" />
<ellipse class="t" cx="914.8" cy="756.5" rx="67.0" ry="41.0" transform="rotate(-61.5 914.8 756.5)" />
<ellipse class="d" cx="915.5" cy="755.7" rx="51.9" ry="32.5" transform="rotate(-59.7 915.5 755.7)" />
<path class="d" d="M860.5,778L864,777L864.5,790L861,791Z" fill="#fff" style="stroke-width:0.7"/>
<path class="d" d="M964,727L967.5,726.5L968,734L964.5,734.5" style="stroke-width:0.7" fill="#fff"/>
<!-- 0220 -->
<g class="d" style="stroke-width:0.85">
<path d="M969.9,674.5L972,673.5C983,675 993,688 996.5,703C998,709 998.5,714 997.7,716.4L994.8,718L985.7,720.6C985,707 978,695 966,687.5L961,688L957.4,684.9L958.3,676.6L963.5,677.5L967.5,679.5Z" fill="#fff"/>
<path class="t" d="M969,679.9C982,684 991,700 994.8,714.8"/>
<path d="M977.4,721L980,715L985.5,714L985.7,722L981,724.7Z" fill="#fff"/>
<path d="M982.5,724L984,728" style="stroke-width:1.2"/>
<path d="M958.3,676.6L962.5,684L966,687.5M963.5,677.5L965,682"/>
</g>
<!-- 0215 latch -->
<g class="d" style="stroke-width:0.85">
<path d="M793.5,615.5L796,614.4L799,615L800.5,617.5L801.9,632L801,637.5L797.5,639.4L794.5,638L794.3,632L788.5,631.5L787.3,629L789,627.5L794,628Z" fill="#fff"/>
<path d="M794.5,617L797.5,618.5L799.5,616.5M797.5,618.5L798,637" />
<path d="M795,616L795.5,627" style="stroke-width:1.4"/>
</g>
<!-- 0213 -->
<path class="ds" d="M641.3,616.7H668.2V699.2H641.3Z" style="stroke-dasharray:5.5 3.5;fill:#fff"/>
<g class="d" style="stroke-width:0.85">
<ellipse cx="656.8" cy="624.3" rx="1.8" ry="2.4"/>
<ellipse cx="656.8" cy="691.6" rx="1.8" ry="2.4"/>
<path d="M654.2,633.2L657.5,631.5L660,632.5L659.5,637L656.1,646.5L659.5,647L662.5,649.7L661.5,653L656.1,654.8L655.5,668.7L660,670L662.5,673.8L660,678L656.8,680.2L653.5,684.8L651.5,683C648.5,675 647,665 647.2,653.5C647.5,645 650,638 654.2,633.2Z" fill="#fff"/>
<path d="M651,640C649,650 649,670 652,682" style="stroke-width:0.6"/>
<path d="M656.5,649L659,650.5M656,671L660,673.5M655,678L659,677" style="stroke-width:0.7"/>
<ellipse cx="657.5" cy="651" rx="1.3" ry="1.6"/>
</g>
<!-- 0208 drawer -->
<g class="d" style="stroke-width:0.85">
<path d="M560.5,830.9L566,828.5L704,755L707.7,756.6L707.7,782L699,788.5L663,808L660.4,814.7Q612,844 563.6,867.3L560.5,865.6Z" fill="#fff"/>
<path d="M568.5,834.4L662.9,785.7V814.7M560.5,830.9L568.5,834.4M568.5,834.4L565,866.5M566.5,831.5L662.9,781"/>
<path d="M662.9,785.7L704,763.5M662.9,788L702,767M663,812L698,792.5M698,767V792.5M704,763.5V787"/>
<path class="t" d="M570,828L640,790M575,826L590,818M628,795L640,788.5M646,780L650,778L652,781"/>
<circle cx="681" cy="781.5" r="10" fill="none" style="stroke-width:0.9"/>
<path d="M673,778C676,772 684,772 686,778M675,788C678,793 685,792 688,786M690,770L692,774M670,785L668,790M676,775L679,777M684,784L687,783" style="stroke-width:0.8"/>
<path d="M671,777L673,779M679,774L681,773M686,788L688,790M672,790L674,791" style="stroke-width:1.6"/>
<path d="M700,761V788M702.5,760V787" style="stroke-width:0.6"/>
<path d="M665,797L667,799M668,805L670,804" style="stroke-width:1.2"/>
<path d="M563,830.5L566.5,829" style="stroke-width:1.8"/>
</g>
<!-- 0209 -->
<g class="d" style="stroke-width:0.85">
<path d="M709,807.5L752.5,777L753,775.5L755,775L759.6,779L756.7,811.4L709.5,841.5L706.5,840.5L704.4,837L704.5,824L707.5,823L708,815L706.5,812.5L707.5,810Z" fill="#fff"/>
<path d="M711.4,809.5L759.1,779.5M711.4,809.5L709.5,841.5M709,807.5L711.4,809.5"/>
<path d="M711,806L743,789M746,788L752.5,783" style="stroke-width:1.3"/>
<path d="M733,793L736,791L738.5,793.5L737.5,797.5L734,798.5Z" fill="#fff"/>
<path d="M727,795.5L727.5,792.5L730,792" />
<path d="M707.5,823L706,826V838" style="stroke-width:0.6"/>
</g>
<!-- small parts -->
<g class="d" style="stroke-width:0.85">
<path d="M310.5,692.5C313.5,690.5 318,691 319.5,694C320.5,696.5 320,698.5 319,699.5L341.5,715.8C345,716 348.5,718.5 348.3,721.5C348,724.5 343.5,725.5 340.5,724C338,722.8 337.5,720.5 338.5,719L316,702.5C313.5,703 309.5,702 308.3,700.2C307.8,699 309,698.2 310.5,698.6L314,698.6C315.2,697.6 315.2,696 314,695.4L310,695.2C308.3,694.8 308.8,693.2 310.5,692.5Z" fill="#fff"/>
<ellipse cx="343.5" cy="721" rx="2.2" ry="1.4"/>
<path d="M318,700.5L340,716.5" style="stroke-width:0.5"/>
<path d="M349.2,734.2L363.3,724.8L373.8,718.4L376.8,720.2L370.3,725.4L372.7,726.6L382,722.5L385.5,724.8L372.7,735.4L362.1,740.1Z" fill="#fff"/>
<path d="M349.2,734.2L349.5,736L362,742L372.7,737L385.5,726.5V724.8M362.1,740.1L362,742"/>
<path d="M359,735L366,736.5" style="stroke-width:2.2"/>
<path d="M363,729L370,731M364.5,727L371,729" style="stroke-width:0.6"/>
<path d="M400.5,707V697C401.2,695 403.3,695 404,697V707" fill="#fff"/>
<path d="M401,699.5L403.5,700M401,701.5L403.5,702M401,703.5L403.5,704" style="stroke-width:0.5"/>
<ellipse cx="402.2" cy="708.5" rx="6.3" ry="3.8" fill="#fff"/>
<path d="M395.9,708.5V711A6.3,3.8 0 0 0 408.5,711V708.5"/>
<ellipse cx="402.2" cy="708.5" rx="2.5" ry="1.4"/>
</g>

<!--RAILS-->
<!--DRAW-->
</svg>
</body></html>
